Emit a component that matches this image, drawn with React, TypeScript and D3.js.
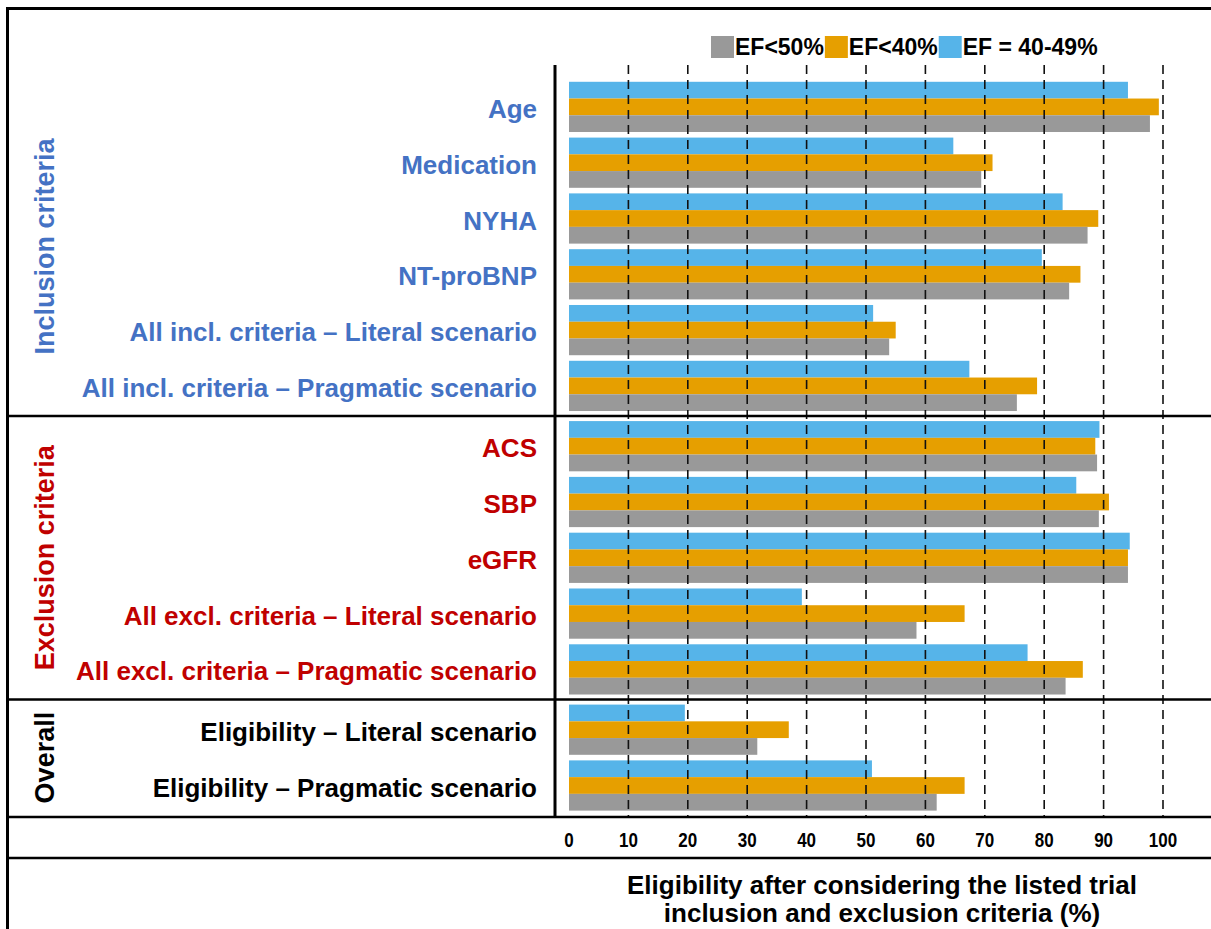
import React, { useRef, useEffect } from 'react';
import * as d3 from 'd3';

// criteria rows, top to bottom
const categories = [
  'Age',
  'Medication',
  'NYHA',
  'NT-proBNP',
  'All incl. criteria – Literal scenario',
  'All incl. criteria – Pragmatic scenario',
  'ACS',
  'SBP',
  'eGFR',
  'All excl. criteria – Literal scenario',
  'All excl. criteria – Pragmatic scenario',
  'Eligibility – Literal scenario',
  'Eligibility – Pragmatic scenario',
];
// which section each row belongs to
const sectionOf = [0, 0, 0, 0, 0, 0, 1, 1, 1, 1, 1, 2, 2];
const sectionNames = ['Inclusion criteria', 'Exclusion criteria', 'Overall'];
const sectionColors = ['#4472c4', '#c00000', '#000000'];

const seriesNames = ['EF<50%', 'EF<40%', 'EF = 40-49%'];
const seriesColors = ['#999999', '#e69f00', '#56b4e9'];

const ef50 = [97.8, 69.4, 87.3, 84.2, 53.9, 75.4, 88.9, 89.2, 94.1, 58.5, 83.6, 31.7, 61.9];
const ef40 = [99.3, 71.3, 89.1, 86.1, 55.0, 78.8, 88.6, 90.9, 94.1, 66.6, 86.5, 37.0, 66.6];
const ef4049 = [94.1, 64.7, 83.1, 79.6, 51.2, 67.4, 89.3, 85.4, 94.4, 39.2, 77.2, 19.5, 51.0];

const tickValues = [0, 10, 20, 30, 40, 50, 60, 70, 80, 90, 100];
const axisTitle = ['Eligibility after considering the listed trial', 'inclusion and exclusion criteria (%)'];

const W = 1211;
const H = 929;
const FONT = '"Liberation Sans", Arial, Helvetica, sans-serif';

function App() {
  const svgRef = useRef(null);

  useEffect(() => {
    const svg = d3.select(svgRef.current);
    svg.selectAll('*').remove();

    const x = d3.scaleLinear().domain([0, 100]).range([569, 1163]);
    const y = d3.scaleBand().domain(categories).range([79, 804.4]).paddingInner(0.1).paddingOuter(0.05);
    const sectionGap = 4.5;
    const yPos = (c, i) => y(c) + sectionOf[i] * sectionGap;
    // bars inside a row: blue on top, orange, gray at bottom
    const sub = d3.scaleBand().domain(['ef4049', 'ef40', 'ef50']).range([0, y.bandwidth()]);

    const top = 65;
    const axisY = 817;
    const axisLineX = 555;

    svg.append('rect').attr('width', W).attr('height', H).attr('fill', '#fff');

    // bars
    const rows = categories.map((c, i) => ({ c, i, ef50: ef50[i], ef40: ef40[i], ef4049: ef4049[i] }));
    const barSeries = [
      { key: 'ef4049', color: seriesColors[2] },
      { key: 'ef40', color: seriesColors[1] },
      { key: 'ef50', color: seriesColors[0] },
    ];
    barSeries.forEach(s => {
      svg.append('g')
        .selectAll('rect')
        .data(rows)
        .enter()
        .append('rect')
        .attr('x', x(0))
        .attr('y', d => yPos(d.c, d.i) + sub(s.key))
        .attr('width', d => x(d[s.key]) - x(0))
        .attr('height', sub.bandwidth())
        .attr('fill', s.color);
    });

    // dashed gridlines, they show over the bars in the original
    svg.append('g')
      .selectAll('line')
      .data(tickValues.filter(t => t > 0))
      .enter()
      .append('line')
      .attr('x1', d => x(d))
      .attr('x2', d => x(d))
      .attr('y1', top)
      .attr('y2', axisY)
      .attr('stroke', '#111')
      .attr('stroke-width', 1.6)
      .attr('stroke-dasharray', '9,6');

    // row labels
    svg.append('g')
      .selectAll('text')
      .data(rows)
      .enter()
      .append('text')
      .attr('x', 537)
      .attr('y', d => yPos(d.c, d.i) + y.bandwidth() / 2 + 2)
      .attr('text-anchor', 'end')
      .attr('dominant-baseline', 'central')
      .style('font-family', FONT)
      .style('font-weight', 'bold')
      .style('font-size', '26px')
      .style('fill', d => sectionColors[sectionOf[d.i]])
      .text(d => d.c);

    // section frames and labels
    const lineStyle = sel => sel.attr('stroke', '#000').attr('stroke-width', 2.6);
    const sectionBounds = sectionNames.map((_, s) => {
      const idx = categories.map((c, i) => i).filter(i => sectionOf[i] === s);
      const first = yPos(categories[idx[0]], idx[0]);
      const last = yPos(categories[idx[idx.length - 1]], idx[idx.length - 1]) + y.bandwidth();
      return { first, last };
    });
    for (let s = 0; s < sectionBounds.length - 1; s++) {
      const yy = (sectionBounds[s].last + sectionBounds[s + 1].first) / 2;
      svg.append('line').attr('x1', 7).attr('x2', W).attr('y1', yy).attr('y2', yy).call(lineStyle);
    }
    sectionNames.forEach((name, s) => {
      const cy = (sectionBounds[s].first + sectionBounds[s].last) / 2;
      svg.append('text')
        .attr('transform', `translate(45,${cy}) rotate(-90)`)
        .attr('text-anchor', 'middle')
        .attr('dominant-baseline', 'central')
        .style('font-family', FONT)
        .style('font-weight', 'bold')
        .style('font-size', '27px')
        .style('fill', sectionColors[s])
        .text(name);
    });

    // axis frame lines
    svg.append('line').attr('x1', axisLineX).attr('x2', axisLineX).attr('y1', top).attr('y2', axisY).call(lineStyle).attr('stroke-width', 3);
    svg.append('line').attr('x1', 7).attr('x2', W).attr('y1', axisY).attr('y2', axisY).call(lineStyle);
    svg.append('line').attr('x1', 7).attr('x2', W).attr('y1', 858).attr('y2', 858).call(lineStyle);

    // outer border (left and top)
    svg.append('path')
      .attr('d', `M7.5,${H} V8.5 H${W}`)
      .attr('fill', 'none')
      .attr('stroke', '#000')
      .attr('stroke-width', 3);

    // tick labels
    svg.append('g')
      .selectAll('text')
      .data(tickValues)
      .enter()
      .append('text')
      .attr('transform', d => `translate(${x(d)},840) scale(0.85,1)`)
      .attr('text-anchor', 'middle')
      .attr('dominant-baseline', 'central')
      .style('font-family', FONT)
      .style('font-weight', 'bold')
      .style('font-size', '20px')
      .text(d => d);

    // axis title
    svg.append('g')
      .selectAll('text')
      .data(axisTitle)
      .enter()
      .append('text')
      .attr('x', 882)
      .attr('y', (d, i) => 885 + i * 28)
      .attr('text-anchor', 'middle')
      .attr('dominant-baseline', 'central')
      .style('font-family', FONT)
      .style('font-weight', 'bold')
      .style('font-size', '26px')
      .text(d => d);

    // legend
    const legend = svg.append('g').attr('transform', 'translate(711,36)');
    let lx = 0;
    seriesNames.forEach((name, i) => {
      legend.append('rect').attr('x', lx).attr('y', 0).attr('width', 23).attr('height', 22).attr('fill', seriesColors[i]);
      const t = legend.append('text')
        .attr('x', lx + 24)
        .attr('y', 19)
        .style('font-family', FONT)
        .style('font-weight', 'bold')
        .style('font-size', '23px')
        .text(name);
      lx += 24 + t.node().getComputedTextLength() + 1;
    });
  }, []);

  return (
    <svg
      ref={svgRef}
      width={W}
      height={H}
      style={{ position: 'absolute', left: 0, top: 0, display: 'block' }}
    />
  );
}

export default App;
